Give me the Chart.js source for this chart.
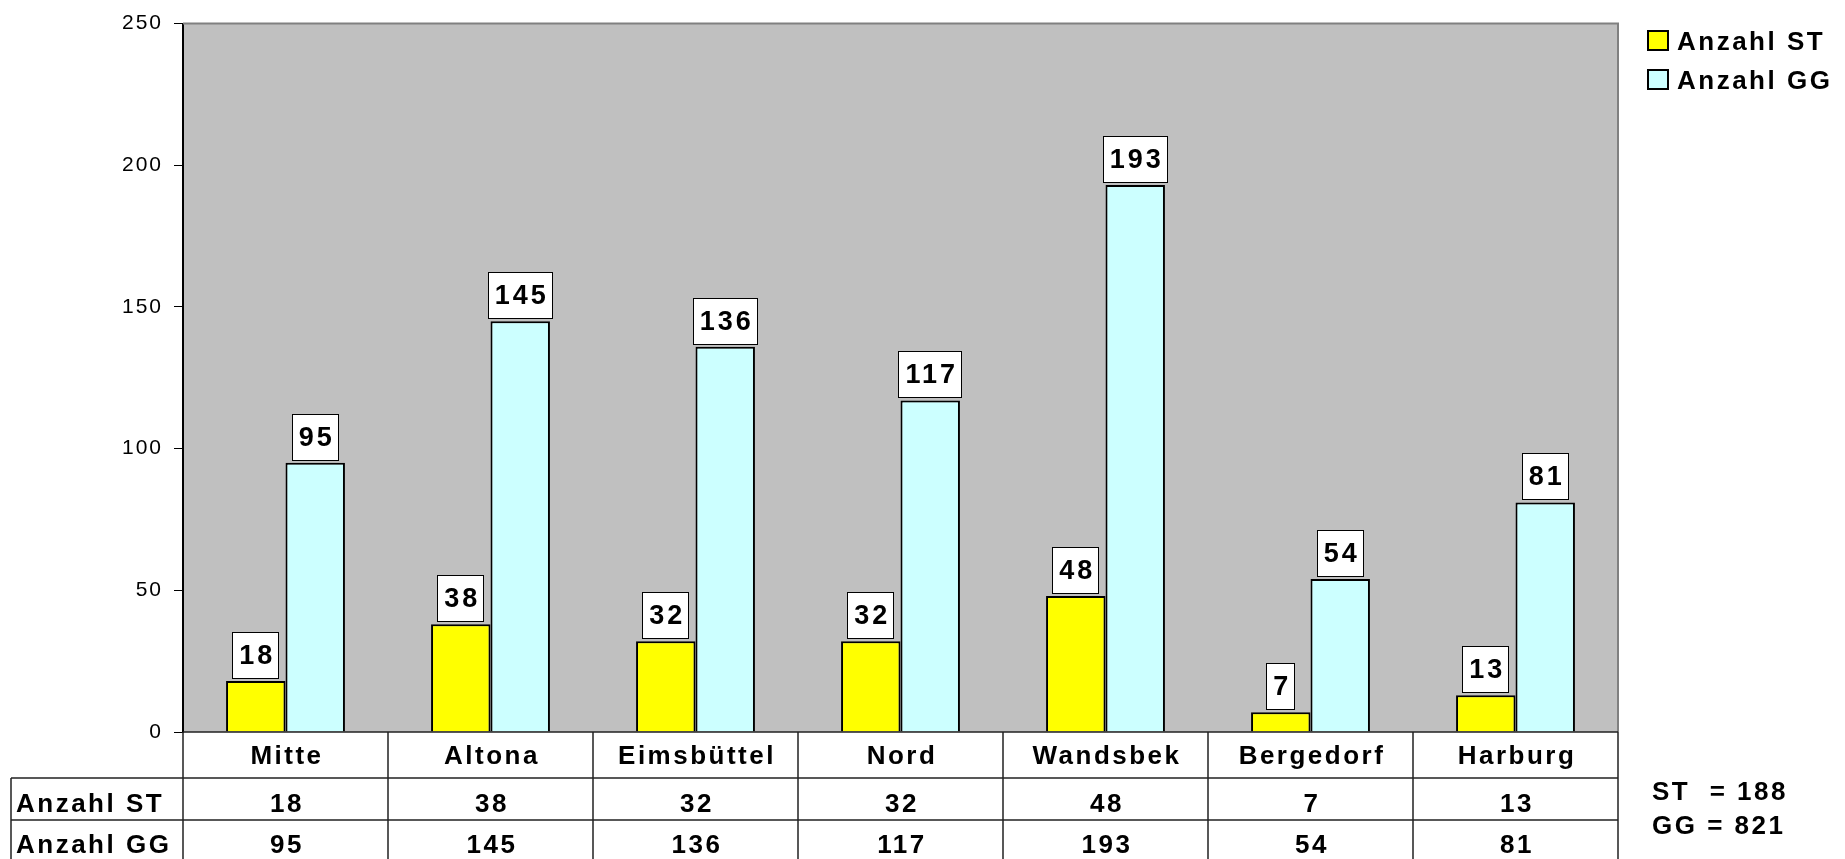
<!DOCTYPE html>
<html lang="de">
<head>
<meta charset="utf-8">
<title>Anzahl ST / GG nach Bezirk</title>
<script src="https://cdn.jsdelivr.net/npm/chart.js@4.4.1/dist/chart.umd.min.js"></script>
<style>
  html, body { margin: 0; padding: 0; background: #fff; }
  #wrap { width: 1845px; height: 859px; }
</style>
</head>
<body>
<div id="wrap"><canvas id="grafico" width="1845" height="859"></canvas></div>
<script>
// ===== Daten =====
const bezirke = ["Mitte", "Altona", "Eimsbüttel", "Nord", "Wandsbek", "Bergedorf", "Harburg"];
const anzahlST = [18, 38, 32, 32, 48, 7, 13];
const anzahlGG = [95, 145, 136, 117, 193, 54, 81];
const reihenNamen = ["Anzahl ST", "Anzahl GG"];
const kurzNamen = ["ST ", "GG"];
const yTicks = [0, 50, 100, 150, 200, 250];

const FONT = '"Liberation Sans", Arial, sans-serif';
const farben = ["#ffff00", "#ccffff"];

// ===== Hintergrund der Zeichenfläche =====
const hintergrund = {
  id: "hintergrund",
  beforeDraw(chart) {
    const { ctx, chartArea: a } = chart;
    ctx.save();
    ctx.fillStyle = "#c0c0c0";
    ctx.fillRect(a.left, a.top, a.right - a.left, a.bottom - a.top);
    ctx.restore();
    // Sperrung für die Achsenbeschriftung
    ctx.letterSpacing = "2px";
  }
};

// ===== Wertekästchen über den Balken =====
const werteLabels = {
  id: "werteLabels",
  afterDatasetsDraw(chart) {
    const ctx = chart.ctx;
    ctx.save();
    ctx.font = "bold 27px " + FONT;
    ctx.letterSpacing = "3px";
    ctx.textAlign = "center";
    ctx.textBaseline = "alphabetic";
    chart.data.datasets.forEach((ds, d) => {
      chart.getDatasetMeta(d).data.forEach((bar, i) => {
        const txt = String(ds.data[i]);
        const w = Math.round(ctx.measureText(txt).width + 11);
        const h = 47;
        const x = Math.round(bar.x - w / 2);
        const y = Math.round(bar.y - 2 - h);
        ctx.fillStyle = "#fff";
        ctx.fillRect(x, y, w, h);
        ctx.strokeStyle = "#000";
        ctx.lineWidth = 1;
        ctx.strokeRect(x + 0.5, y + 0.5, w - 1, h - 1);
        ctx.fillStyle = "#000";
        ctx.fillText(txt, bar.x + 1.5, y + h - 15);
      });
    });
    ctx.restore();
  }
};

// ===== Rahmen, Datentabelle, Legende, Summen =====
const tabelle = {
  id: "tabelle",
  afterDraw(chart) {
    const { ctx, chartArea: a } = chart;
    const xs = chart.scales.x;
    const n = bezirke.length;
    const cw = (a.right - a.left) / n;
    const y0 = a.bottom, y1 = y0 + 46, y2 = y1 + 42, y3 = chart.height + 5;
    const links = 11;

    ctx.save();
    ctx.letterSpacing = "0px";

    // grauer Rahmen oben / rechts
    ctx.strokeStyle = "#808080";
    ctx.lineWidth = 2;
    ctx.beginPath();
    ctx.moveTo(a.left, a.top);
    ctx.lineTo(a.right, a.top);
    ctx.lineTo(a.right, a.bottom);
    ctx.stroke();

    // Tabellenlinien
    ctx.strokeStyle = "#222";
    ctx.lineWidth = 1.5;
    ctx.beginPath();
    ctx.moveTo(a.left, y0); ctx.lineTo(a.right, y0);
    ctx.moveTo(links, y1); ctx.lineTo(a.right, y1);
    ctx.moveTo(links, y2); ctx.lineTo(a.right, y2);
    ctx.moveTo(links, y1); ctx.lineTo(links, y3);
    for (let i = 0; i <= n; i++) {
      const xx = a.left + i * cw;
      ctx.moveTo(xx, y0); ctx.lineTo(xx, y3);
    }
    ctx.stroke();

    // Texte
    ctx.font = "bold 26px " + FONT;
    ctx.letterSpacing = "2.5px";
    ctx.fillStyle = "#000";
    ctx.textBaseline = "alphabetic";

    ctx.textAlign = "center";
    bezirke.forEach((b, i) => {
      const cx = xs.getPixelForValue(i) + 1.5;
      ctx.fillText(b, cx, y0 + 32);
      ctx.fillText(String(anzahlST[i]), cx, y1 + 34);
      ctx.fillText(String(anzahlGG[i]), cx, y2 + 33);
    });

    ctx.textAlign = "left";
    ctx.fillText(reihenNamen[0], 16, y1 + 34);
    ctx.fillText(reihenNamen[1], 16, y2 + 33);

    // Summen
    const summe = arr => arr.reduce((s, v) => s + v, 0);
    ctx.fillText(kurzNamen[0] + " = " + summe(anzahlST), 1652, 800);
    ctx.fillText(kurzNamen[1] + " = " + summe(anzahlGG), 1652, 834);

    // Legende
    const legY = [30, 69];
    reihenNamen.forEach((name, i) => {
      ctx.fillStyle = farben[i];
      ctx.fillRect(1647, legY[i], 22, 21);
      ctx.strokeStyle = "#000";
      ctx.lineWidth = 2;
      ctx.strokeRect(1648, legY[i] + 1, 20, 19);
      ctx.fillStyle = "#000";
      ctx.fillText(name, 1677, legY[i] + 20);
    });

    ctx.restore();
  }
};

// ===== Diagramm =====
new Chart(document.getElementById("grafico"), {
  type: "bar",
  data: {
    labels: bezirke,
    datasets: [
      { label: reihenNamen[0], data: anzahlST, backgroundColor: farben[0], borderColor: "#000", borderWidth: 2 },
      { label: reihenNamen[1], data: anzahlGG, backgroundColor: farben[1], borderColor: "#000", borderWidth: 2 }
    ]
  },
  options: {
    responsive: false,
    devicePixelRatio: 1,
    animation: false,
    datasets: { bar: { categoryPercentage: 0.58, barPercentage: 1 } },
    layout: { padding: { top: 20, right: 227, bottom: 127, left: 0 } },
    plugins: { legend: { display: false }, tooltip: { enabled: false } },
    scales: {
      x: { display: false },
      y: {
        min: yTicks[0],
        max: yTicks[yTicks.length - 1],
        afterBuildTicks: s => { s.ticks = yTicks.map(v => ({ value: v })); },
        ticks: { color: "#000", font: { family: FONT, size: 21 }, padding: 11 },
        grid: { drawOnChartArea: false, drawTicks: true, tickLength: 9, color: "#000", lineWidth: 1 },
        border: { display: true, color: "#000", width: 2 },
        afterFit: s => { s.width = 183; }
      }
    }
  },
  plugins: [hintergrund, werteLabels, tabelle]
});
</script>
</body>
</html>
